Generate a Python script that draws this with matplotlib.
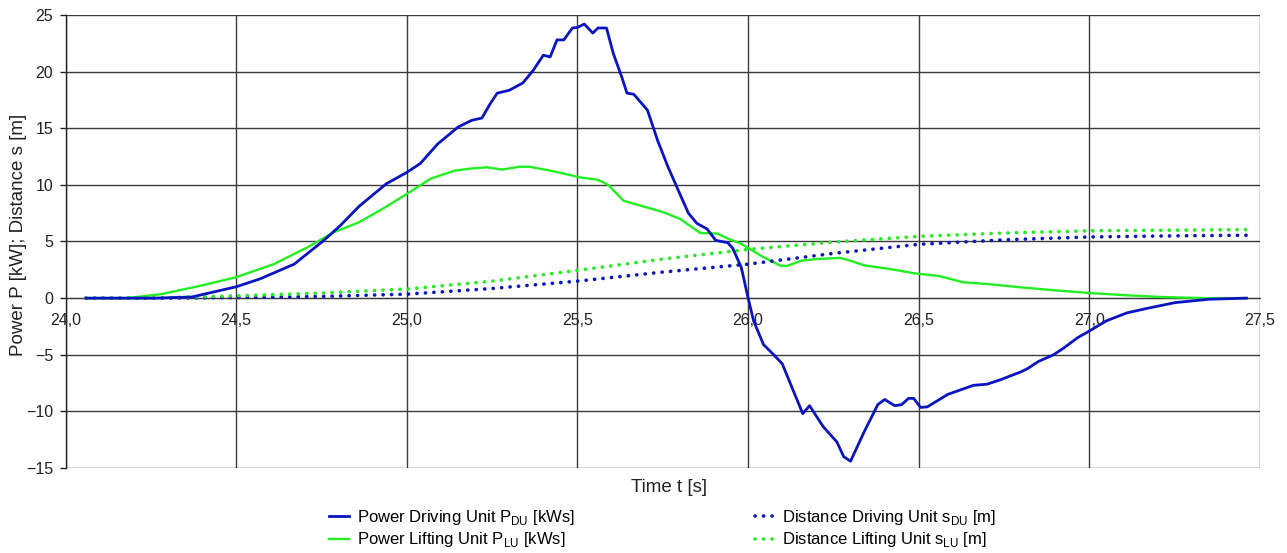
import matplotlib
matplotlib.use("Agg")
import matplotlib.pyplot as plt

plt.rcParams['font.family'] = ['Liberation Sans', 'DejaVu Sans']
plt.rcParams['mathtext.fontset'] = 'custom'
plt.rcParams['mathtext.rm'] = 'Liberation Sans'

# ---- data ----
t_pdu = [24.06, 24.26, 24.37, 24.50, 24.57, 24.67, 24.755, 24.805, 24.86, 24.88, 24.94, 25.00, 25.04,
         25.09, 25.15, 25.19, 25.22, 25.245, 25.265, 25.30, 25.34, 25.37, 25.40, 25.42, 25.44, 25.46,
         25.485, 25.50, 25.52, 25.545, 25.56, 25.585, 25.605, 25.63, 25.645, 25.665, 25.705, 25.735,
         25.765, 25.80, 25.825, 25.85, 25.88, 25.905, 25.94, 25.955, 25.98, 26.00, 26.016, 26.045,
         26.075, 26.10, 26.145, 26.16, 26.18, 26.22, 26.26, 26.28, 26.30, 26.34, 26.38, 26.40, 26.43,
         26.45, 26.47, 26.485, 26.505, 26.525, 26.585, 26.66, 26.70, 26.74, 26.80, 26.82, 26.85,
         26.895, 26.925, 26.965, 27.00, 27.05, 27.11, 27.17, 27.25, 27.35, 27.46]
p_du = [0.0, 0.0, 0.1, 1.0, 1.7, 3.0, 5.05, 6.4, 8.1, 8.6, 10.1, 11.1, 11.9,
        13.6, 15.1, 15.7, 15.9, 17.2, 18.1, 18.35, 19.0, 20.1, 21.45, 21.3, 22.8, 22.8,
        23.85, 23.9, 24.2, 23.4, 23.85, 23.85, 21.6, 19.5, 18.1, 18.0, 16.6, 13.9,
        11.6, 9.2, 7.5, 6.6, 6.1, 5.1, 4.9, 4.4, 2.7, 0.0, -2.0, -4.1,
        -5.0, -5.8, -9.1, -10.2, -9.5, -11.35, -12.7, -14.0, -14.4, -11.8, -9.4, -8.95, -9.5,
        -9.4, -8.85, -8.85, -9.65, -9.6, -8.5, -7.7, -7.6, -7.2, -6.5, -6.2, -5.6,
        -5.0, -4.4, -3.5, -2.9, -2.0, -1.3, -0.9, -0.4, -0.1, 0.0]

t_plu = [24.06, 24.18, 24.28, 24.39, 24.50, 24.61, 24.71, 24.785, 24.86, 24.93, 25.00, 25.07, 25.14,
         25.19, 25.235, 25.28, 25.33, 25.36, 25.43, 25.51, 25.56, 25.59, 25.635, 25.675, 25.75, 25.80,
         25.86, 25.91, 25.945, 25.98, 26.04, 26.095, 26.115, 26.155, 26.20, 26.27, 26.30, 26.34,
         26.42, 26.485, 26.56, 26.63, 26.70, 26.80, 26.895, 27.00, 27.11, 27.21, 27.335, 27.46]
p_lu = [0.0, 0.0, 0.35, 1.05, 1.85, 3.0, 4.5, 5.8, 6.7, 7.9, 9.2, 10.55, 11.25,
        11.45, 11.55, 11.35, 11.6, 11.6, 11.2, 10.65, 10.45, 10.0, 8.6, 8.25, 7.6, 7.0,
        5.75, 5.7, 5.2, 4.8, 3.7, 2.85, 2.85, 3.3, 3.45, 3.55, 3.3, 2.9,
        2.55, 2.2, 1.95, 1.4, 1.25, 0.95, 0.7, 0.45, 0.25, 0.1, 0.0, 0.0]

t_s = [24.06, 24.30, 24.50, 24.75, 25.00, 25.25, 25.50, 25.75, 26.00, 26.25, 26.50, 26.75, 27.00, 27.25, 27.46]
s_du = [0.0, 0.0, 0.05, 0.15, 0.35, 0.85, 1.5, 2.3, 3.0, 3.95, 4.75, 5.15, 5.4, 5.5, 5.55]
s_lu = [0.0, 0.05, 0.2, 0.45, 0.8, 1.5, 2.45, 3.45, 4.3, 4.95, 5.45, 5.75, 5.95, 6.0, 6.05]

x_ticks = [24.0, 24.5, 25.0, 25.5, 26.0, 26.5, 27.0, 27.5]
x_ticklabels = ['24,0', '24,5', '25,0', '25,5', '26,0', '26,5', '27,0', '27,5']
y_ticks = [-15, -10, -5, 0, 5, 10, 15, 20, 25]

labels = [r'Power Driving Unit P$_{\mathregular{DU}}$ [kWs]',
          r'Power Lifting Unit P$_{\mathregular{LU}}$ [kWs]',
          r'Distance Driving Unit s$_{\mathregular{DU}}$ [m]',
          r'Distance Lifting Unit s$_{\mathregular{LU}}$ [m]']

blue = '#0A14C0'
green = '#22EE22'

fig = plt.figure(figsize=(12.87, 5.53), dpi=100)
ax = fig.add_axes([0.0509, 0.1537, 0.9282, 0.8192])

h1, = ax.plot(t_pdu, p_du, color=blue, lw=2.0, label=labels[0], zorder=4)
h2, = ax.plot(t_plu, p_lu, color=green, lw=1.7, label=labels[1], zorder=3)
dots = (0, (0.05, 2.3))
h3, = ax.plot(t_s, s_du, color=blue, lw=2.6, linestyle=dots, dash_capstyle='round', label=labels[2], zorder=3)
h4, = ax.plot(t_s, s_lu, color=green, lw=2.6, linestyle=dots, dash_capstyle='round', label=labels[3], zorder=3)

ax.set_xlim(24.0, 27.5)
ax.set_ylim(-15, 25)
ax.set_xticks(x_ticks)
ax.set_xticklabels(x_ticklabels)
ax.set_yticks(y_ticks)
ax.grid(True, color='#3a3a3a', lw=1.0)
ax.set_axisbelow(True)

for s in ['top', 'right']:
    ax.spines[s].set_visible(False)
ax.spines['bottom'].set_position(('data', 0))
ax.spines['bottom'].set_color('#3a3a3a')
ax.spines['left'].set_color('#222222')
ax.spines['left'].set_linewidth(1.0)

ax.tick_params(axis='x', length=0, pad=11, labelsize=11.5, colors='#222222')
ax.tick_params(axis='y', length=4, width=1.0, pad=5, labelsize=11.5, colors='#222222', direction='out')

ax.set_ylabel('Power P [kW]; Distance s [m]', fontsize=13.5, color='#222222')
ax.yaxis.set_label_coords(-0.032, 0.514)
fig.text(0.52, 0.118, 'Time t [s]', ha='center', va='center', fontsize=13.5, color='#222222')

fig.legend(handles=[h1, h2, h3, h4], loc='center', bbox_to_anchor=(0.515, 0.044), ncol=2,
           frameon=False, fontsize=12, handlelength=1.15, handletextpad=0.5,
           columnspacing=10.8, labelspacing=0.2)

fig.savefig('out.png', dpi=100)
